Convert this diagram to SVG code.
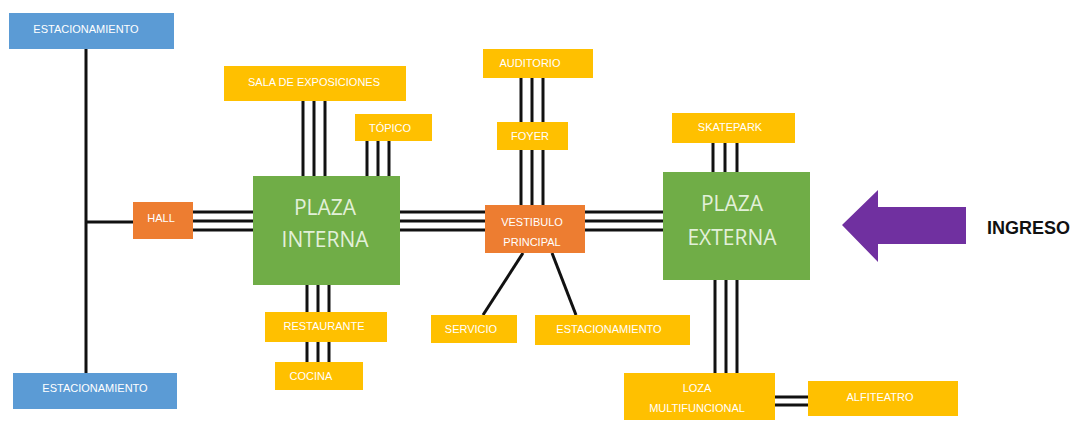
<svg xmlns="http://www.w3.org/2000/svg" width="1078" height="425" viewBox="0 0 1078 425">
  <defs>
    <style>
      .blue { fill: #5b9bd5; }
      .yellow { fill: #ffc000; }
      .orange { fill: #ed7d31; }
      .green { fill: #70ad47; }
      .lbl { font-family: "Liberation Sans", Arial, sans-serif; font-size: 11px; fill: #ffffff; text-anchor: middle; dominant-baseline: central; }
      .big { font-family: "Open Sans", "Liberation Sans", sans-serif; font-size: 21px; fill: #e2f0d9; text-anchor: middle; dominant-baseline: central; }
      .wire { stroke: #111111; stroke-width: 3; fill: none; }
    </style>
  </defs>

  <rect width="1078" height="425" fill="#ffffff"/>

  <!-- links between spaces -->
  <g id="connectors" class="wire">
    <!-- parking spine to hall -->
    <line x1="86" y1="49" x2="86" y2="374"/>
    <line x1="86" y1="222" x2="134" y2="222"/>
    <!-- hall to inner plaza -->
    <line x1="193" y1="212" x2="254" y2="212"/>
    <line x1="193" y1="221" x2="254" y2="221"/>
    <line x1="193" y1="230" x2="254" y2="230"/>
    <!-- exhibition hall -->
    <line x1="303" y1="101" x2="303" y2="177"/>
    <line x1="314" y1="101" x2="314" y2="177"/>
    <line x1="325" y1="101" x2="325" y2="177"/>
    <!-- topico -->
    <line x1="367" y1="141" x2="367" y2="177"/>
    <line x1="378" y1="141" x2="378" y2="177"/>
    <line x1="389" y1="141" x2="389" y2="177"/>
    <!-- restaurant and kitchen -->
    <line x1="307" y1="284" x2="307" y2="362"/>
    <line x1="318" y1="284" x2="318" y2="362"/>
    <line x1="329" y1="284" x2="329" y2="362"/>
    <!-- inner plaza to lobby -->
    <line x1="399" y1="212" x2="486" y2="212"/>
    <line x1="399" y1="221" x2="486" y2="221"/>
    <line x1="399" y1="230" x2="486" y2="230"/>
    <!-- auditorium, foyer, lobby -->
    <line x1="521" y1="78" x2="521" y2="206"/>
    <line x1="532" y1="78" x2="532" y2="206"/>
    <line x1="543" y1="78" x2="543" y2="206"/>
    <!-- lobby to service and parking -->
    <line x1="523" y1="253" x2="483" y2="315"/>
    <line x1="552" y1="253" x2="576" y2="315"/>
    <!-- lobby to outer plaza -->
    <line x1="585" y1="212" x2="664" y2="212"/>
    <line x1="585" y1="221" x2="664" y2="221"/>
    <line x1="585" y1="230" x2="664" y2="230"/>
    <!-- skatepark -->
    <line x1="713" y1="143" x2="713" y2="173"/>
    <line x1="725" y1="143" x2="725" y2="173"/>
    <line x1="737" y1="143" x2="737" y2="173"/>
    <!-- multipurpose slab -->
    <line x1="715" y1="279" x2="715" y2="374"/>
    <line x1="726" y1="279" x2="726" y2="374"/>
    <line x1="737" y1="279" x2="737" y2="374"/>
    <!-- amphitheatre -->
    <line x1="774" y1="397" x2="809" y2="397"/>
    <line x1="774" y1="405" x2="809" y2="405"/>
  </g>

  <g id="estacionamiento-norte">
    <rect class="blue" x="9" y="13" width="165" height="36"/>
    <text class="lbl" x="86" y="29">ESTACIONAMIENTO</text>
  </g>
  <g id="estacionamiento-sur">
    <rect class="blue" x="13" y="373" width="164" height="36"/>
    <text class="lbl" x="95" y="388">ESTACIONAMIENTO</text>
  </g>
  <g id="hall">
    <rect class="orange" x="133" y="202" width="60" height="37"/>
    <text class="lbl" x="161" y="218">HALL</text>
  </g>
  <g id="plaza-interna">
    <rect class="green" x="253" y="176" width="147" height="109"/>
    <text class="big" x="325" y="207">PLAZA</text>
    <text class="big" x="325" y="239">INTERNA</text>
  </g>
  <g id="sala-exposiciones">
    <rect class="yellow" x="224" y="66" width="182" height="35"/>
    <text class="lbl" x="314" y="82">SALA DE EXPOSICIONES</text>
  </g>
  <g id="topico">
    <rect class="yellow" x="355" y="114" width="77" height="27"/>
    <text class="lbl" x="390" y="128">TÓPICO</text>
  </g>
  <g id="restaurante">
    <rect class="yellow" x="265" y="312" width="122" height="30"/>
    <text class="lbl" x="324" y="326">RESTAURANTE</text>
  </g>
  <g id="cocina">
    <rect class="yellow" x="275" y="362" width="88" height="28"/>
    <text class="lbl" x="311" y="376">COCINA</text>
  </g>
  <g id="auditorio">
    <rect class="yellow" x="483" y="49" width="110" height="29"/>
    <text class="lbl" x="530" y="63">AUDITORIO</text>
  </g>
  <g id="foyer">
    <rect class="yellow" x="497" y="122" width="71" height="28"/>
    <text class="lbl" x="530" y="136">FOYER</text>
  </g>
  <g id="vestibulo-principal">
    <rect class="orange" x="485" y="205" width="100" height="48"/>
    <text class="lbl" x="532" y="222">VESTIBULO</text>
    <text class="lbl" x="532" y="242">PRINCIPAL</text>
  </g>
  <g id="servicio">
    <rect class="yellow" x="431" y="315" width="86" height="28"/>
    <text class="lbl" x="471" y="329">SERVICIO</text>
  </g>
  <g id="estacionamiento-este">
    <rect class="yellow" x="535" y="315" width="155" height="30"/>
    <text class="lbl" x="609" y="329">ESTACIONAMIENTO</text>
  </g>
  <g id="plaza-externa">
    <rect class="green" x="663" y="172" width="147" height="108"/>
    <text class="big" x="732" y="203">PLAZA</text>
    <text class="big" x="732" y="237">EXTERNA</text>
  </g>
  <g id="skatepark">
    <rect class="yellow" x="672" y="113" width="123" height="30"/>
    <text class="lbl" x="730" y="127">SKATEPARK</text>
  </g>
  <g id="loza-multifuncional">
    <rect class="yellow" x="624" y="373" width="151" height="47"/>
    <text class="lbl" x="697" y="388">LOZA</text>
    <text class="lbl" x="697" y="408">MULTIFUNCIONAL</text>
  </g>
  <g id="alfiteatro">
    <rect class="yellow" x="808" y="381" width="150" height="35"/>
    <text class="lbl" x="880" y="397">ALFITEATRO</text>
  </g>

  <!-- entrance arrow -->
  <g id="ingreso">
    <polygon fill="#7030a0" points="842,225 878,190 878,207 966,207 966,244 878,244 878,262"/>
    <text x="987" y="228" font-family="Liberation Sans, Arial, sans-serif" font-size="18" font-weight="bold" fill="#111111" dominant-baseline="central">INGRESO</text>
  </g>
</svg>
